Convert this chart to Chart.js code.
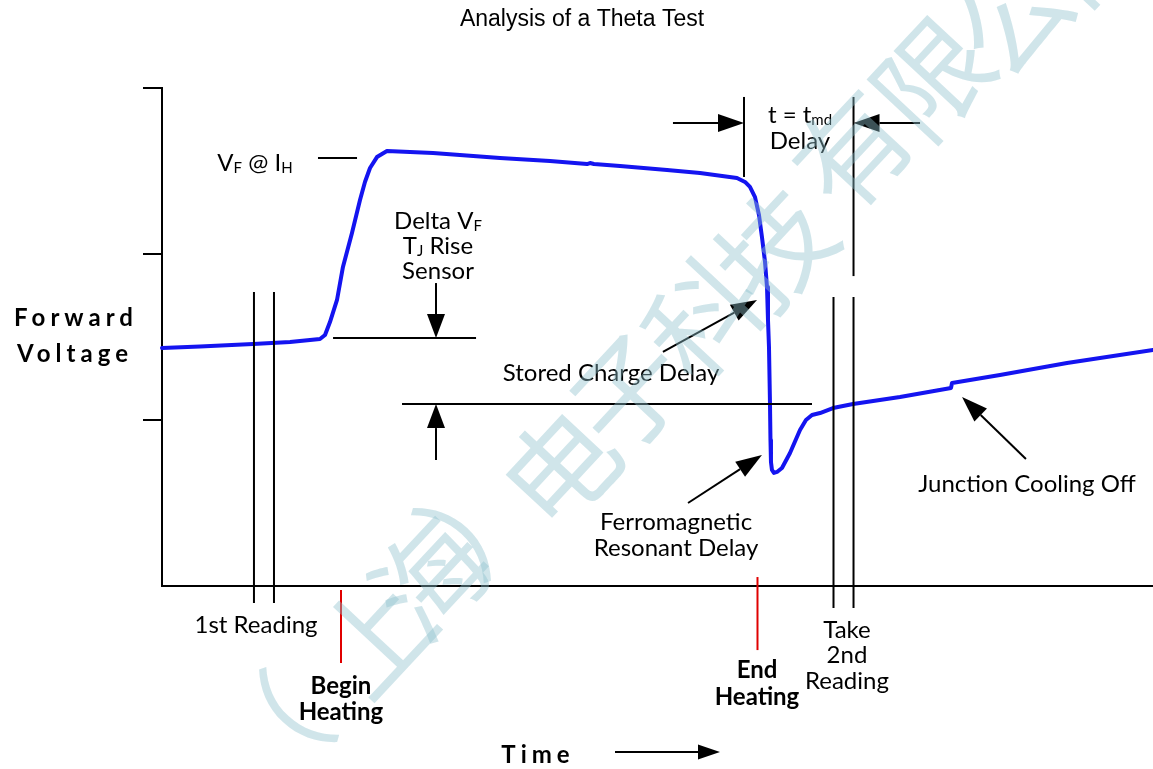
<!DOCTYPE html>
<html><head><meta charset="utf-8">
<script src="https://cdn.jsdelivr.net/npm/chart.js@4.4.1/dist/chart.umd.min.js"></script>
<style>html,body{margin:0;padding:0;background:#fff;}canvas{display:block;}</style>
</head><body>
<canvas id="c" width="1153" height="769"></canvas>
<script>
// ---- data (time in arbitrary units 0..100, forward voltage 0..3) ----
const timeValues = [0,3.83,9.18,12.92,15.94,16.45,16.95,17.66,18.26,19.17,19.98,20.48,20.99,21.69,22.70,27.35,34.11,39.15,42.89,43.19,43.59,46.22,50.96,54.29,58.02,58.83,59.33,59.84,60.24,60.54,60.85,61.05,61.15,61.25,61.35,61.40,61.45,61.55,61.75,62.06,62.56,63.37,64.38,64.98,65.59,66.40,67.71,69.73,74.47,79.62,79.72,84.56,91.32,100];
const voltageValues = [1.434,1.443,1.458,1.470,1.488,1.512,1.590,1.723,1.922,2.127,2.325,2.434,2.518,2.584,2.620,2.608,2.578,2.560,2.542,2.548,2.542,2.530,2.506,2.488,2.458,2.434,2.404,2.343,2.235,2.102,1.952,1.801,1.602,1.440,1.102,0.880,0.747,0.699,0.681,0.687,0.711,0.801,0.940,1.000,1.030,1.042,1.072,1.096,1.139,1.193,1.223,1.271,1.343,1.422];
const yTickValues = [1,2,3];
const firstReadingTimes = [9.28, 11.30];
const secondReadingTimes = [67.76, 69.78];
const beginHeatingTime = 18.06;
const endHeatingTime = 60.09;
const tmdTimes = [58.73, 69.78];
const deltaLevels = [1.494, 1.096];
const watermarkChars = ['（','上','海','）','电','子','科','技','有','限','公','司'];

function seg(ctx,x1,y1,x2,y2){ctx.beginPath();ctx.moveTo(x1,y1);ctx.lineTo(x2,y2);ctx.stroke();}
function arrow(ctx,x1,y1,x2,y2,hl,hw){
  const a=Math.atan2(y2-y1,x2-x1);
  const bx=x2-hl*Math.cos(a), by=y2-hl*Math.sin(a);
  seg(ctx,x1,y1,bx,by);
  ctx.beginPath();ctx.moveTo(x2,y2);
  ctx.lineTo(bx+hw/2*Math.sin(a),by-hw/2*Math.cos(a));
  ctx.lineTo(bx-hw/2*Math.sin(a),by+hw/2*Math.cos(a));
  ctx.closePath();ctx.fill();
}
const MAIN='24px Lato', SUB='15px Lato', BOLD='bold 24px Lato';
function rich(ctx,parts,cx,cy){
  let w=0;
  parts.forEach(p=>{ctx.font=p[1]?SUB:MAIN;w+=ctx.measureText(p[0]).width;});
  let x=cx-w/2;ctx.textAlign='left';ctx.textBaseline='middle';
  parts.forEach(p=>{ctx.font=p[1]?SUB:MAIN;ctx.fillText(p[0],x,cy+(p[1]?5:0));x+=ctx.measureText(p[0]).width;});
}
function text(ctx,s,cx,cy,font){ctx.font=font||MAIN;ctx.textAlign='center';ctx.textBaseline='middle';ctx.fillText(s,cx,cy);}

const deco={
  id:'deco',
  beforeDatasetsDraw(chart){
    const ctx=chart.ctx,xs=chart.scales.x,ys=chart.scales.y;
    const X=v=>xs.getPixelForValue(v),Y=v=>ys.getPixelForValue(v);
    ctx.save();ctx.strokeStyle='#000';ctx.lineWidth=2;
    seg(ctx,X(0),Y(3)-1,X(0),Y(0)+1);
    seg(ctx,X(0),Y(0),X(100)+2,Y(0));
    yTickValues.forEach(t=>seg(ctx,X(0)-19,Y(t),X(0),Y(t)));
    ctx.restore();
  },
  afterDatasetsDraw(chart){
    const ctx=chart.ctx,xs=chart.scales.x,ys=chart.scales.y,ca=chart.chartArea;
    const X=v=>xs.getPixelForValue(v),Y=v=>ys.getPixelForValue(v);
    ctx.save();
    ctx.strokeStyle='#000';ctx.fillStyle='#000';ctx.lineWidth=2;
    firstReadingTimes.forEach(t=>seg(ctx,X(t),Y(1.771),X(t),Y(-0.102)));
    secondReadingTimes.forEach(t=>seg(ctx,X(t),Y(1.741),X(t),Y(-0.133)));
    seg(ctx,X(tmdTimes[0]),Y(2.946),X(tmdTimes[0]),Y(2.464));
    seg(ctx,X(tmdTimes[1]),Y(2.946),X(tmdTimes[1]),Y(1.867));
    arrow(ctx,X(51.56),Y(2.789),X(tmdTimes[0]),Y(2.789),26,18);
    arrow(ctx,X(76.49),Y(2.789),X(tmdTimes[1]),Y(2.789),26,18);
    seg(ctx,X(15.74),Y(2.578),X(19.68),Y(2.578));
    seg(ctx,X(17.26),Y(deltaLevels[0]),X(31.69),Y(deltaLevels[0]));
    seg(ctx,X(24.22),Y(deltaLevels[1]),X(65.59),Y(deltaLevels[1]));
    arrow(ctx,X(27.65),Y(1.825),X(27.65),Y(deltaLevels[0]),24,18);
    arrow(ctx,X(27.65),Y(0.759),X(27.65),Y(deltaLevels[1]),24,18);
    arrow(ctx,X(50.55),Y(1.410),X(60.04),Y(1.723),26,18);
    arrow(ctx,X(53.08),Y(0.500),X(60.54),Y(0.789),26,18);
    arrow(ctx,X(87.18),Y(0.765),X(80.73),Y(1.139),26,18);
    ctx.strokeStyle='#e00000';
    seg(ctx,X(beginHeatingTime),Y(-0.024),X(beginHeatingTime),Y(-0.464));
    seg(ctx,X(endHeatingTime),Y(0.054),X(endHeatingTime),Y(-0.386));
    ctx.strokeStyle='#000';ctx.fillStyle='#000';
    rich(ctx,[['V',0],['F',1],[' @ I',0],['H',1]],X(9.38),Y(2.548));
    rich(ctx,[['Delta V',0],['F',1]],X(27.85),Y(2.199));
    rich(ctx,[['T',0],['J',1],[' Rise',0]],X(27.85),Y(2.048));
    text(ctx,'Sensor',X(27.85),Y(1.898));
    rich(ctx,[['t = t',0],['md',1]],X(64.38),Y(2.837));
    text(ctx,'Delay',X(64.38),Y(2.681));
    text(ctx,'Stored Charge Delay',X(45.31),Y(1.283));
    text(ctx,'Ferromagnetic',X(51.87),Y(0.386));
    text(ctx,'Resonant Delay',X(51.87),Y(0.229));
    text(ctx,'Junction Cooling Off',X(87.29),Y(0.614));
    text(ctx,'1st Reading',X(9.49),Y(-0.235));
    text(ctx,'Begin',X(beginHeatingTime),Y(-0.602),BOLD);
    text(ctx,'Heating',X(beginHeatingTime),Y(-0.759),BOLD);
    text(ctx,'End',X(60.04),Y(-0.506),BOLD);
    text(ctx,'Heating',X(60.04),Y(-0.669),BOLD);
    text(ctx,'Take',X(69.12),Y(-0.265));
    text(ctx,'2nd',X(69.12),Y(-0.416));
    text(ctx,'Reading',X(69.12),Y(-0.572));
    ctx.letterSpacing='5px';
    text(ctx,'Forward',ca.left-86,318,BOLD);
    text(ctx,'Voltage',ca.left-87,354,BOLD);
    text(ctx,'Time',ca.left+376,755,BOLD);
    ctx.letterSpacing='0px';
    arrow(ctx,ca.left+453,752,ca.left+558,752,22,15);
    ctx.font='23px "Liberation Sans"';ctx.textAlign='center';ctx.textBaseline='middle';
    ctx.fillText('Analysis of a Theta Test',582,20);
    ctx.restore();
  },
  afterDraw(chart){
    const ctx=chart.ctx;
    const pos=[[268,738],[375,635],[430,578],[482,512],[560,468],[628,392],[703,318],[775,248],[852,150],[932,78],[1012,16],[1092,-44]];
    ctx.save();
    ctx.fillStyle='rgba(143,192,205,0.42)';
    ctx.font='112px "Noto Sans CJK SC"';ctx.textAlign='center';ctx.textBaseline='middle';
    watermarkChars.forEach((c,i)=>{ctx.save();ctx.translate(pos[i][0],pos[i][1]);ctx.rotate(-47*Math.PI/180);ctx.fillText(c,0,0);ctx.restore();});
    ctx.restore();
  }
};

new Chart(document.getElementById('c').getContext('2d'),{
  type:'line',
  data:{datasets:[{
    data:timeValues.map((t,i)=>({x:t,y:voltageValues[i]})),
    borderColor:'#1414f0',borderWidth:4,pointRadius:0,tension:0,fill:false,clip:false,
    borderJoinStyle:'round',borderCapStyle:'round'
  }]},
  options:{
    responsive:false,animation:false,devicePixelRatio:1,
    layout:{padding:{left:162,top:88,right:0,bottom:183}},
    plugins:{legend:{display:false},title:{display:false},tooltip:{enabled:false}},
    scales:{
      x:{type:'linear',min:0,max:100,display:false},
      y:{type:'linear',min:0,max:3,display:false}
    }
  },
  plugins:[deco]
});
</script>
</body></html>
